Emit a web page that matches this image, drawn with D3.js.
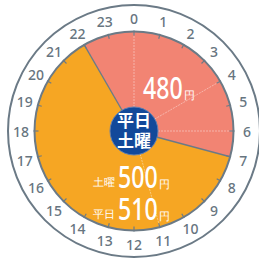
<!DOCTYPE html>
<html>
<head>
<meta charset="utf-8">
<script src="https://d3js.org/d3.v7.min.js"></script>
<style>
  body { margin: 0; background: #fff; }
  svg { display: block; }
  .hour { font-family: "Noto Sans", sans-serif; font-size: 14px; font-weight: 500; fill: #67757f; }
  .fare { font-family: "Noto Sans", sans-serif; fill: #fff; font-weight: 500; }
</style>
</head>
<body>
<svg id="chart" width="259" height="260"></svg>
<script>
// time bands (hours on the 24h dial)
var bandNames = ["night", "day"];
var bandHours = [9, 15];          // 22:00-7:00, 7:00-22:00
var bandStart = 22;
var bandColors = ["#f28473", "#f6a623"];
var subLines = [0, 4, 6, 11];     // faint inner separators
var hours = d3.range(0, 24);
var centerLabels = ["平日", "土曜"];
var fareValues = [480, 500, 510];
var farePrefixes = ["", "土曜", "平日"];

var svg = d3.select("#chart");
var cx = 134, cy = 131, r = 99.5, rOuter = 126, rLabel = 113;

var angle = d3.scaleLinear().domain([0, 24]).range([0, 2 * Math.PI]);
function pt(h, rr) {
  var a = angle(h);
  return [cx + rr * Math.sin(a), cy - rr * Math.cos(a)];
}

var g = svg.append("g");

// outer ring
g.append("circle").attr("cx", cx).attr("cy", cy).attr("r", rOuter)
  .attr("fill", "#fff").attr("stroke", "#6b7a86").attr("stroke-width", 2);

var pie = d3.pie().sort(null)
  .startAngle(angle(bandStart))
  .endAngle(angle(bandStart) + 2 * Math.PI);
var arc = d3.arc().innerRadius(0).outerRadius(r);

g.append("g").attr("transform", "translate(" + cx + "," + cy + ")")
  .selectAll("path").data(pie(bandHours)).join("path")
  .attr("d", arc)
  .attr("fill", (d, i) => bandColors[i]);

// faint separators
g.selectAll("line.sub").data(subLines).join("line")
  .attr("class", "sub")
  .attr("x1", cx).attr("y1", cy)
  .attr("x2", d => pt(d, r)[0]).attr("y2", d => pt(d, r)[1])
  .attr("stroke", "#fff").attr("stroke-opacity", 0.4)
  .attr("stroke-width", 1).attr("stroke-dasharray", "2,1");

// band boundaries
var bounds = [bandStart, (bandStart + bandHours[0]) % 24];
g.selectAll("line.bound").data(bounds).join("line")
  .attr("class", "bound")
  .attr("x1", cx).attr("y1", cy)
  .attr("x2", d => pt(d, r)[0]).attr("y2", d => pt(d, r)[1])
  .attr("stroke", "#6b7a86").attr("stroke-width", 1.3);

// pie rim
g.append("circle").attr("cx", cx).attr("cy", cy).attr("r", r)
  .attr("fill", "none").attr("stroke", "#6b7a86").attr("stroke-width", 2);

// hour ticks
g.selectAll("line.tick").data(hours).join("line")
  .attr("class", "tick")
  .attr("x1", d => pt(d, r - 4)[0]).attr("y1", d => pt(d, r - 4)[1])
  .attr("x2", d => pt(d, r + 1)[0]).attr("y2", d => pt(d, r + 1)[1])
  .attr("stroke", "#6b7a86").attr("stroke-width", 1.2);

// hour labels
g.selectAll("text.hour").data(hours).join("text")
  .attr("class", "hour")
  .attr("x", d => pt(d, rLabel)[0])
  .attr("y", d => pt(d, rLabel)[1])
  .attr("text-anchor", "middle")
  .attr("dominant-baseline", "central")
  .text(d => d);

// center badge
g.append("circle").attr("cx", cx).attr("cy", cy).attr("r", 24)
  .attr("fill", "#12499a").attr("stroke", "#5d7fb3").attr("stroke-width", 1);
g.selectAll("text.center").data(centerLabels).join("text")
  .attr("class", "center")
  .attr("x", cx).attr("y", (d, i) => cy - 4 + i * 20)
  .attr("text-anchor", "middle")
  .attr("font-family", "'Noto Sans CJK JP', sans-serif")
  .attr("font-weight", 700).attr("font-size", 17).attr("fill", "#fff")
  .text(d => d);

// fare labels
function fare(x, y, prefix, value) {
  var t = g.append("g");
  if (prefix) {
    t.append("text").attr("class", "fare").attr("x", x - 25).attr("y", y - 2)
      .attr("font-family", "'Noto Sans CJK JP', sans-serif")
      .attr("font-size", 11).attr("font-weight", 700).text(prefix);
  }
  // condensed digits
  t.append("text").attr("class", "fare")
    .attr("transform", "translate(" + x + "," + y + ") scale(0.77,1)")
    .attr("font-size", 30)
    .text(value);
  t.append("text").attr("class", "fare").attr("x", x + 41).attr("y", y)
    .attr("font-family", "'Noto Sans CJK JP', sans-serif")
    .attr("font-size", 11).attr("font-weight", 700).text("円");
}
fare(143, 99, farePrefixes[0], fareValues[0]);
fare(118, 188, farePrefixes[1], fareValues[1]);
fare(118, 220, farePrefixes[2], fareValues[2]);
</script>
</body>
</html>
